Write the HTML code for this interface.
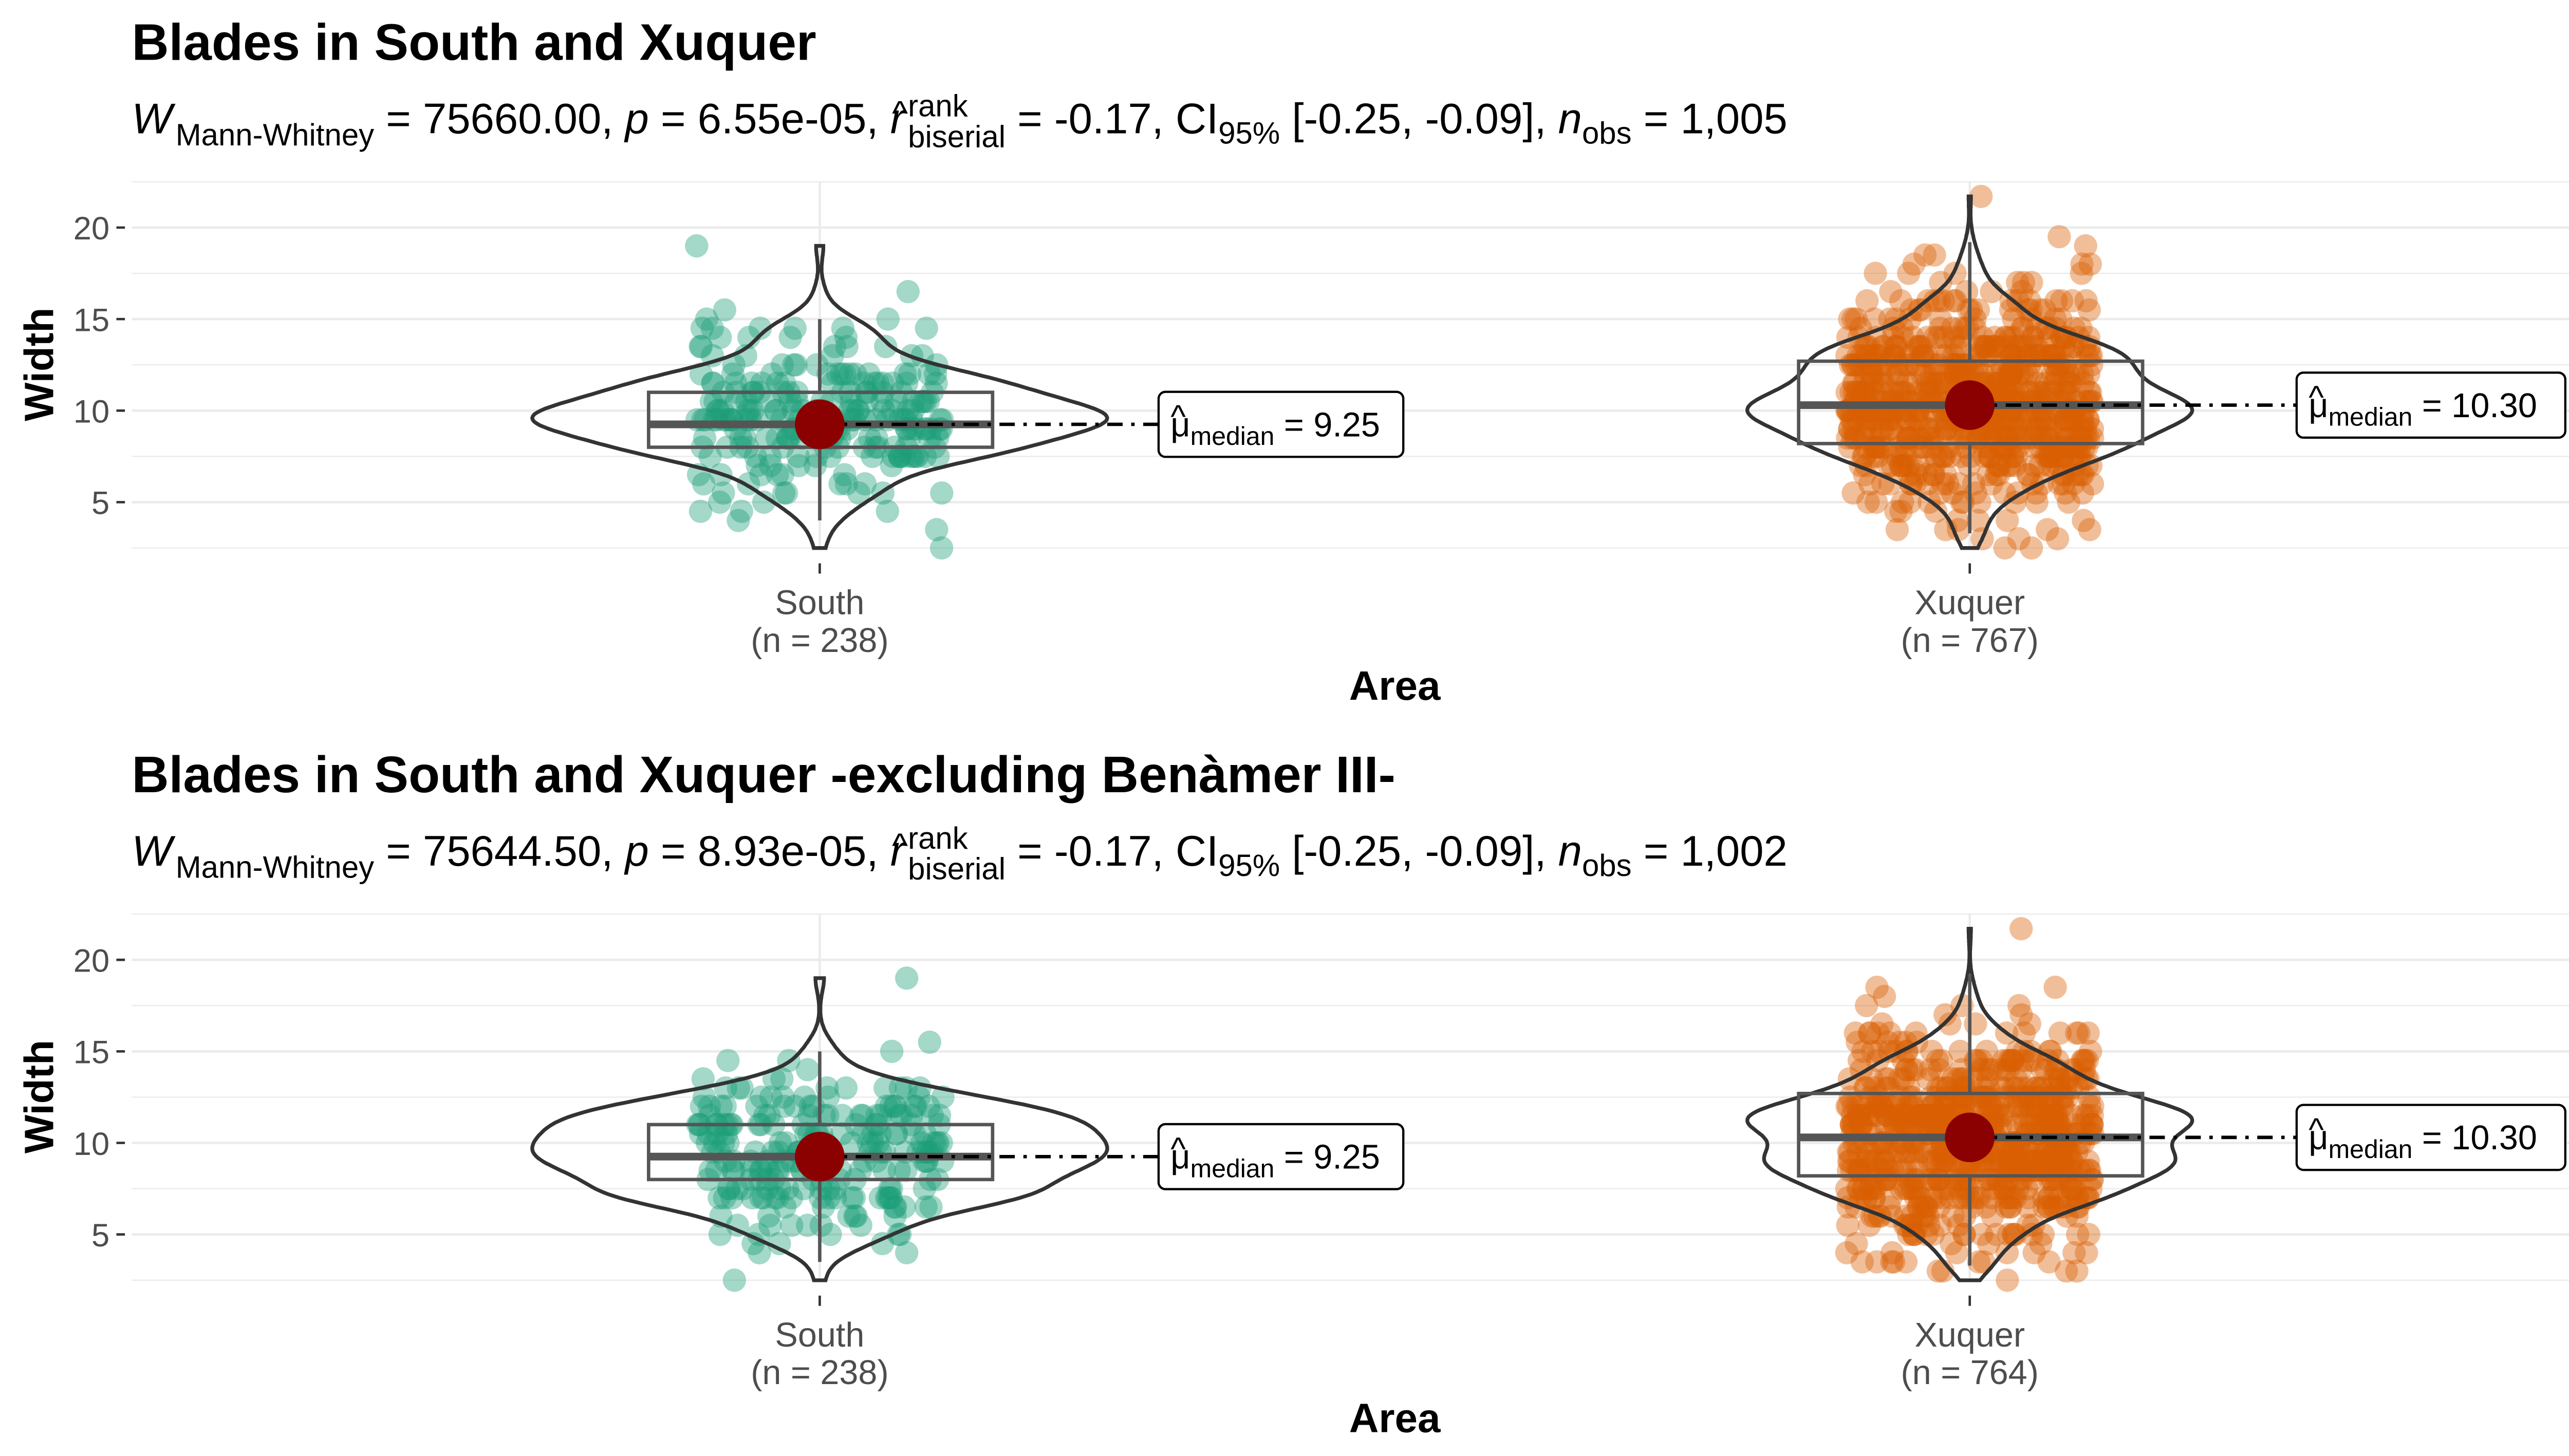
<!DOCTYPE html>
<html><head><meta charset="utf-8"><style>
html,body{margin:0;padding:0;background:#fff;}
svg{display:block;font-family:"Liberation Sans",Arial,sans-serif;}
text,tspan{white-space:pre;}
</style></head><body>
<svg id="s" xmlns="http://www.w3.org/2000/svg" width="5196" height="2834" viewBox="0 0 1560 851" preserveAspectRatio="none">
<rect width="1560" height="851" fill="#fff"/>
<text x="77" y="35" font-size="30" font-weight="bold">Blades in South and Xuquer</text>
<text x="77" y="463" font-size="30" font-weight="bold">Blades in South and Xuquer -excluding Benàmer III-</text>
</svg>
<script>
const NS="http://www.w3.org/2000/svg",S=document.getElementById('s');
function el(t,a,p){const e=document.createElementNS(NS,t);for(const k in a)e.setAttribute(k,a[k]);(p||S).appendChild(e);return e;}
function txt(s,a,p){const e=el('text',a,p);e.setAttributeNS('http://www.w3.org/XML/1998/namespace','xml:space','preserve');e.textContent=s;return e;}
let seed=12345;function rnd(){seed|=0;seed=seed+0x6D2B79F5|0;let t=Math.imul(seed^seed>>>15,1|seed);t=t+Math.imul(t^t>>>7,61|t)^t;return((t^t>>>14)>>>0)/4294967296;}
function norm(){let u=rnd()||1e-9,v=rnd();return Math.sqrt(-2*Math.log(u))*Math.cos(2*Math.PI*v);}
function gen(n,m,sd,lo,hi){const a=[];for(let i=0;i<n;i++){let v;do{v=m+sd*norm();}while(v<lo||v>hi);a.push(Math.round(v*2)/2);}a.push(lo);a.push(hi);return a;}
function subtitle(y,W,p,n){
  let x=77;
  function piece(s,size,dy,it){const e=txt(s,{x:x,y:y+dy,'font-size':size});if(it)e.setAttribute('font-style','italic');x+=e.getComputedTextLength();return e;}
  piece('W',25,0,1);x+=2;piece('Mann-Whitney',18,7);piece(' = '+W+', ',25,0);piece('p',25,0,1);piece(' = '+p+', ',25,0);
  const rx=x;piece('r',25,0,1);txt('^',{x:rx+1,y:y-5,'font-size':20});x+=2;
  const sx=x;const a=txt('rank',{x:sx,y:y-10,'font-size':18});const b=txt('biserial',{x:sx,y:y+8,'font-size':18});
  x=sx+Math.max(a.getComputedTextLength(),b.getComputedTextLength());
  piece(' = -0.17, CI',25,0);piece('95%',18,6);piece(' [-0.25, -0.09], ',25,0);piece('n',25,0,1);piece('obs',18,6);piece(' = '+n,25,0);
}
function panel(off,nS,nX,W,p,n,medS,medX,boxS,boxX){
  const Y=v=>off+240-(v-10)*10.7;
  for(let v=2.5;v<=22.6;v+=2.5){el('line',{x1:77,x2:1550,y1:Y(v),y2:Y(v),stroke:'#EBEBEB','stroke-width':(v%5==0)?1.4:0.7});}
  [479,1151].forEach(cx=>{el('line',{x1:cx,x2:cx,y1:Y(22.5),y2:Y(2.5),stroke:'#EBEBEB','stroke-width':1.4});el('line',{x1:cx,x2:cx,y1:Y(2.5)+9,y2:Y(2.5)+15,stroke:'#333','stroke-width':1.4});});
  [5,10,15,20].forEach(v=>{txt(String(v),{x:64,y:Y(v)+7,'font-size':19,fill:'#4d4d4d','text-anchor':'end'});el('line',{x1:68,x2:73,y1:Y(v),y2:Y(v),stroke:'#333','stroke-width':1.4});});
  txt('Width',{x:0,y:0,'font-size':24,'font-weight':'bold','text-anchor':'middle',transform:`translate(31,${off+213}) rotate(-90)`});
  txt('South',{x:479,y:off+359,'font-size':20,fill:'#4d4d4d','text-anchor':'middle'});
  txt('(n = 238)',{x:479,y:off+381,'font-size':20,fill:'#4d4d4d','text-anchor':'middle'});
  txt('Xuquer',{x:1151,y:off+359,'font-size':20,fill:'#4d4d4d','text-anchor':'middle'});
  txt('(n = '+nX+')',{x:1151,y:off+381,'font-size':20,fill:'#4d4d4d','text-anchor':'middle'});
  txt('Area',{x:815,y:off+409,'font-size':24,'font-weight':'bold','text-anchor':'middle'});
  subtitle(off+78,W,p,n);
  const groups=[{cx:479,data:gen(nS,9.4,2.5,2.5,19),col:'#1B9E77',hw:168,med:medS,box:boxS,lab:'9.25',lx:677,lw:143},
                {cx:1151,data:gen(nX,10.4,3.0,2.5,21.7),col:'#D95F02',hw:130,med:medX,box:boxX,lab:'10.30',lx:1342,lw:157}];
  groups.forEach(g=>{
    g.data.forEach(v=>{el('circle',{cx:g.cx+(rnd()*2-1)*72,cy:Y(v),r:6.8,fill:g.col,'fill-opacity':0.4});});
    const lo=Math.min(...g.data),hi=Math.max(...g.data),bw=0.75,pts=[];let mx=0;
    for(let v=lo;v<=hi+1e-6;v+=0.1){let d=0;for(const u of g.data)d+=Math.exp(-0.5*((v-u)/bw)**2);pts.push([v,d]);if(d>mx)mx=d;}
    let dp='';pts.forEach((q,i)=>{dp+=(i?'L':'M')+(g.cx+q[1]/mx*g.hw).toFixed(1)+','+Y(q[0]).toFixed(1);});
    for(let i=pts.length-1;i>=0;i--){dp+='L'+(g.cx-pts[i][1]/mx*g.hw).toFixed(1)+','+Y(pts[i][0]).toFixed(1);}
    el('path',{d:dp+'Z',fill:'none',stroke:'#333','stroke-width':2.2});
    const b=g.box;
    el('line',{x1:g.cx,x2:g.cx,y1:Y(b[3]),y2:Y(b[2]),stroke:'#555','stroke-width':2});
    el('line',{x1:g.cx,x2:g.cx,y1:Y(b[1]),y2:Y(b[4]),stroke:'#555','stroke-width':2});
    el('rect',{x:g.cx-100,y:Y(b[2]),width:201,height:Y(b[1])-Y(b[2]),fill:'none',stroke:'#555','stroke-width':2});
    el('line',{x1:g.cx-100,x2:g.cx+101,y1:Y(b[0]),y2:Y(b[0]),stroke:'#555','stroke-width':4.5});
    const my=Y(g.med);
    el('line',{x1:g.cx,x2:g.lx,y1:my,y2:my,stroke:'#000','stroke-width':2,'stroke-dasharray':'9,5,2,5'});
    el('circle',{cx:g.cx,cy:my,r:14.5,fill:'#8B0000'});
    el('rect',{x:g.lx,y:my-19,width:g.lw,height:38,rx:4,fill:'#fff',stroke:'#000','stroke-width':1.3});
    const t=txt('',{x:g.lx+7,y:my+7,'font-size':20});
    const a=el('tspan',{},t);a.textContent='μ';
    const c=el('tspan',{'font-size':15,dy:5},t);c.textContent='median';
    const d=el('tspan',{dy:-5},t);d.textContent=' = '+g.lab;
    txt('^',{x:g.lx+7,y:my+2,'font-size':19});
  });
}
panel(0,238,767,'75660.00','6.55e-05','1,005',9.25,10.3,[9.25,8,11,15,4],[10.3,8.2,12.7,19.2,3.3]);
panel(428,238,764,'75644.50','8.93e-05','1,002',9.25,10.3,[9.25,8,11,15,3.5],[10.3,8.2,12.7,19.2,3.3]);
</script>
</body></html>
